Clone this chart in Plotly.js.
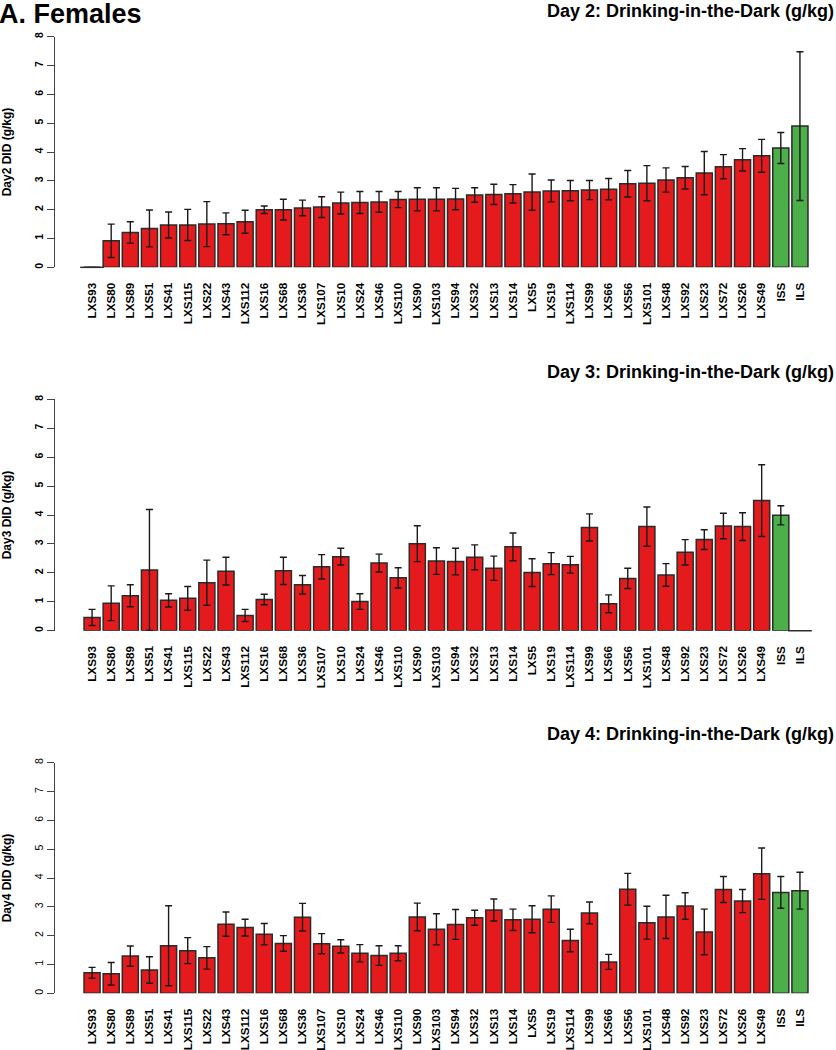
<!DOCTYPE html>
<html>
<head>
<meta charset="utf-8">
<script src="https://cdn.plot.ly/plotly-3.0.1.min.js"></script>
<style>html,body{margin:0;padding:0;background:#fff;}#chart{width:836px;height:1050px;}</style>
</head>
<body>
<div id="chart"></div>
<script>
const strains = ['LXS93','LXS80','LXS89','LXS51','LXS41','LXS115','LXS22','LXS43','LXS112','LXS16','LXS68','LXS36','LXS107','LXS10','LXS24','LXS46','LXS110','LXS90','LXS103','LXS94','LXS32','LXS13','LXS14','LXS5','LXS19','LXS114','LXS99','LXS66','LXS56','LXS101','LXS48','LXS92','LXS23','LXS72','LXS26','LXS49','ISS','ILS'];

const day2Mean = [0,0.92,1.21,1.35,1.47,1.47,1.50,1.51,1.58,2.00,2.00,2.06,2.09,2.23,2.25,2.27,2.35,2.36,2.36,2.37,2.51,2.53,2.55,2.61,2.65,2.66,2.68,2.71,2.90,2.92,3.03,3.11,3.27,3.49,3.73,3.87,4.14,4.90];
const day2SE   = [null,0.58,0.37,0.64,0.45,0.54,0.78,0.38,0.40,0.13,0.36,0.27,0.36,0.38,0.38,0.36,0.28,0.40,0.40,0.37,0.25,0.35,0.32,0.63,0.38,0.35,0.33,0.37,0.46,0.61,0.42,0.39,0.75,0.42,0.39,0.57,0.54,2.58];

const day3Mean = [0.46,0.95,1.21,2.10,1.05,1.12,1.66,2.06,0.53,1.08,2.07,1.59,2.21,2.56,1.01,2.34,1.83,3.01,2.41,2.39,2.54,2.16,2.90,2.01,2.32,2.28,3.57,0.93,1.81,3.60,1.93,2.71,3.15,3.62,3.60,4.50,3.99,0];
const day3SE   = [0.28,0.60,0.38,2.09,0.23,0.41,0.78,0.48,0.21,0.18,0.47,0.32,0.42,0.29,0.27,0.31,0.35,0.62,0.46,0.46,0.43,0.42,0.48,0.48,0.38,0.29,0.47,0.31,0.35,0.68,0.39,0.44,0.34,0.44,0.48,1.24,0.33,null];

const day4Mean = [0.71,0.68,1.29,0.81,1.65,1.48,1.23,2.40,2.28,2.05,1.73,2.64,1.72,1.63,1.39,1.31,1.39,2.65,2.22,2.39,2.62,2.89,2.55,2.57,2.92,1.83,2.79,1.09,3.61,2.45,2.65,3.03,2.13,3.60,3.20,4.15,3.50,3.56];
const day4SE   = [0.19,0.39,0.35,0.46,1.39,0.45,0.39,0.42,0.29,0.37,0.27,0.48,0.35,0.23,0.30,0.34,0.26,0.48,0.54,0.52,0.26,0.38,0.37,0.47,0.46,0.39,0.38,0.26,0.55,0.57,0.75,0.46,0.79,0.45,0.40,0.89,0.55,0.64];

const panelTitles = ['Day 2: Drinking-in-the-Dark (g/kg)','Day 3: Drinking-in-the-Dark (g/kg)','Day 4: Drinking-in-the-Dark (g/kg)'];
const yTitles = ['Day2 DID (g/kg)','Day3 DID (g/kg)','Day4 DID (g/kg)'];
const yTicks = [0,1,2,3,4,5,6,7,8];

const RED = '#E41A1C', GREEN = '#4DAF4A';
const colors = strains.map(s => s.indexOf('LXS') === 0 ? RED : GREEN);
const FONT = 'Liberation Sans, Arial, sans-serif';

const panels = [
  {mean: day2Mean, se: day2SE},
  {mean: day3Mean, se: day3SE},
  {mean: day4Mean, se: day4SE}
];
const domains = [[0.7454,0.9650],[0.3993,0.6197],[0.0540,0.2736]];
const titleY = [10.5, 371.5, 734];

const data = [];
const layout = {
  width: 836, height: 1050,
  margin: {l: 55, r: 0, t: 0, b: 0},
  paper_bgcolor: '#fff', plot_bgcolor: '#fff',
  showlegend: false,
  bargap: 0.16,
  font: {family: FONT, color: '#000'},
  annotations: [
    {text: '<b>A. Females</b>', xref: 'paper', yref: 'paper', x: -55/781, xanchor: 'left', xshift: -3,
     y: 1, yanchor: 'top', yshift: 3, showarrow: false, font: {size: 27, family: FONT, color: '#000'}}
  ]
};

panels.forEach((p, i) => {
  const n = i === 0 ? '' : String(i + 1);
  data.push({
    type: 'bar', x: strains, y: p.mean, xaxis: 'x' + n, yaxis: 'y' + n,
    marker: {color: colors, line: {color: '#2b2b2b', width: 1.5}},
    error_y: {type: 'data', array: p.se, visible: true, color: '#1a1a1a', thickness: 1.4, width: 3.5},
    cliponaxis: false, hoverinfo: 'x+y'
  });
  const zx = [], zy = [];
  p.mean.forEach((v, k) => { if (v === 0) { zx.push(strains[k]); zy.push(v); } });
  data.push({
    type: 'scatter', mode: 'markers', x: zx, y: zy, xaxis: 'x' + n, yaxis: 'y' + n,
    marker: {symbol: 'line-ew', size: 17, line: {color: '#2b2b2b', width: 1.5}},
    cliponaxis: false, hoverinfo: 'skip'
  });
  layout['xaxis' + n] = {
    anchor: 'y' + n, domain: [0, 1], type: 'category',
    range: [-1.937, 38.885], showline: false, showgrid: false, zeroline: false,
    ticks: '', tickangle: -90, ticklabelstandoff: 12,
    tickfont: {family: FONT, size: 11.7, color: '#000', weight: 'bold'},
    fixedrange: true
  };
  layout['yaxis' + n] = {
    anchor: 'x' + n, domain: domains[i], range: [0, 8],
    tickvals: yTicks, ticktext: yTicks.map(String),
    showline: true, linecolor: '#444', linewidth: 1,
    ticks: 'outside', ticklen: 7, tickcolor: '#444', tickwidth: 1,
    showgrid: false, zeroline: false, tickangle: -90,
    tickfont: {family: FONT, size: 10.5, color: '#000', weight: i === 2 ? 'normal' : 'bold'},
    title: {text: yTitles[i], standoff: 19, font: {family: FONT, size: 12, color: '#000', weight: 'bold'}},
    fixedrange: true
  };
  layout.annotations.push({
    text: '<b>' + panelTitles[i] + '</b>', xref: 'paper', yref: 'paper', x: 1, xanchor: 'right', xshift: 0,
    y: 1 - titleY[i] / 1050, yanchor: 'middle', showarrow: false,
    font: {size: 18, family: FONT, color: '#000'}
  });
});

Plotly.newPlot('chart', data, layout, {staticPlot: true, displayModeBar: false});
</script>
</body>
</html>
